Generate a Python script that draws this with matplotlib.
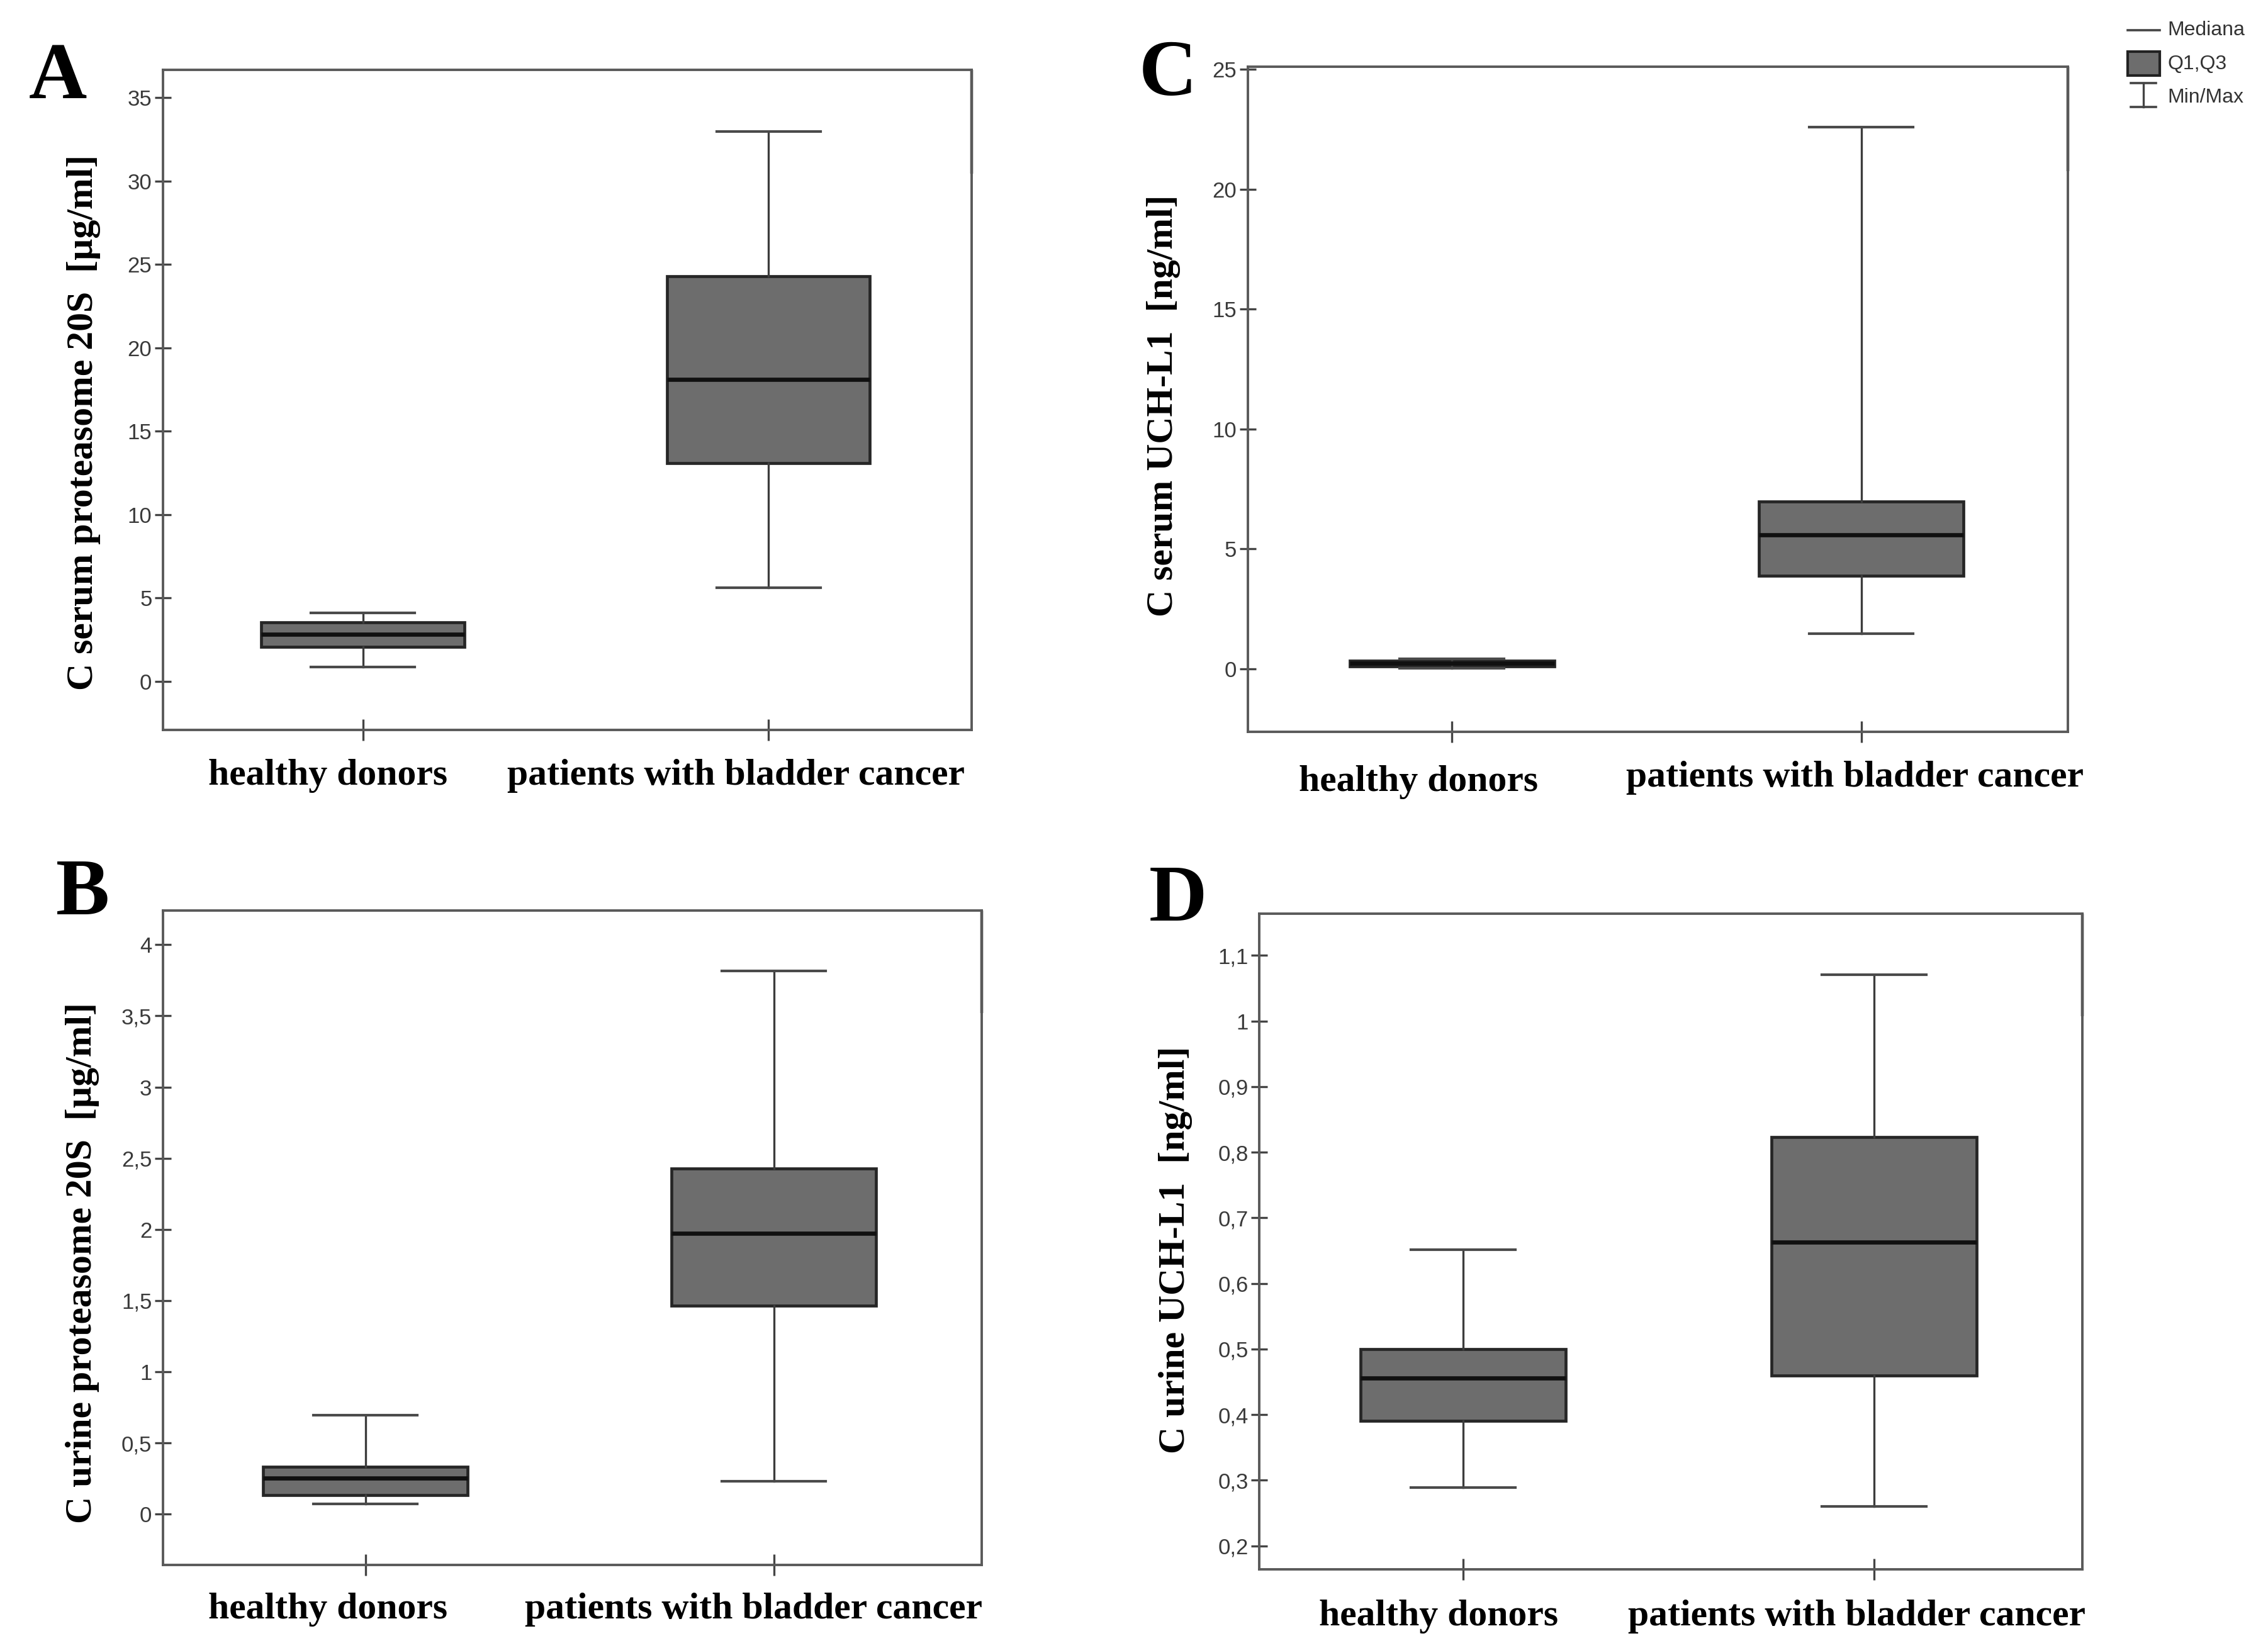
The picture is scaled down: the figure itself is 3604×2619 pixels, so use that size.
import matplotlib
matplotlib.use("Agg")
import matplotlib.pyplot as plt
from matplotlib.lines import Line2D
from matplotlib.patches import Rectangle
from matplotlib.ticker import FuncFormatter, MultipleLocator

# ---- data (min, Q1, median, Q3, max) ----
groups = ["healthy donors", "patients with bladder cancer"]

A_min = [0.85, 5.63]
A_q1 = [2.08, 13.1]
A_med = [2.83, 18.1]
A_q3 = [3.53, 24.3]
A_max = [4.09, 32.96]

C_min = [0.02, 1.47]
C_q1 = [0.10, 3.88]
C_med = [0.22, 5.59]
C_q3 = [0.32, 6.97]
C_max = [0.40, 22.59]

B_min = [0.074, 0.232]
B_q1 = [0.136, 1.464]
B_med = [0.251, 1.972]
B_q3 = [0.332, 2.426]
B_max = [0.693, 3.816]

D_min = [0.289, 0.260]
D_q1 = [0.390, 0.460]
D_med = [0.456, 0.663]
D_q3 = [0.500, 0.823]
D_max = [0.651, 1.071]

ylabels = {
    "A": "C serum proteasome 20S  [\u00b5g/ml]",
    "C": "C serum UCH-L1  [ng/ml]",
    "B": "C urine proteasome 20S  [\u00b5g/ml]",
    "D": "C urine UCH-L1  [ng/ml]",
}
legend_labels = ["Mediana", "Q1,Q3", "Min/Max"]

serif = ["Liberation Serif", "DejaVu Serif"]
tickfont = ["Liberation Sans Narrow", "Liberation Sans", "DejaVu Sans"]

fig = plt.figure(figsize=(36.05, 26.19), dpi=100)

spine_col = "#5a5a5a"


def comma_fmt(v, pos):
    s = "%g" % round(v, 3)
    return s.replace(".", ",")


def panel(rect, letter, mins, q1s, meds, q3s, maxs, ylim, step, xlim,
          lab_dx, lab_dy, letter_xy, ylab_xy):
    ax = fig.add_axes(rect)
    stats = []
    for i in range(len(groups)):
        stats.append(dict(whislo=mins[i], q1=q1s[i], med=meds[i],
                          q3=q3s[i], whishi=maxs[i], fliers=[]))
    ax.bxp(stats, positions=[1, 2], widths=0.5, capwidths=0.255,
           patch_artist=True, showfliers=False,
           boxprops=dict(facecolor="#6d6d6d", edgecolor="#262626", linewidth=3.4),
           medianprops=dict(color="#101010", linewidth=4.8),
           whiskerprops=dict(color="#3c3c3c", linewidth=2.4),
           capprops=dict(color="#4a4a4a", linewidth=3.0))
    ax.set_xlim(*xlim)
    ax.set_ylim(*ylim)
    ax.yaxis.set_major_locator(MultipleLocator(step))
    ax.yaxis.set_major_formatter(FuncFormatter(comma_fmt))
    ax.set_xticks([1, 2])
    ax.set_xticklabels(["", ""])
    for s in ax.spines.values():
        s.set_color(spine_col)
        s.set_linewidth(2.8)
    # darker stretch at top of the right frame, as in the scan
    ax.plot([1, 1], [0.843, 1.0], transform=ax.transAxes, color="#1e1e1e",
            lw=3.2, clip_on=False, solid_capstyle="butt")
    ax.tick_params(axis="y", direction="inout", length=19, width=2.4,
                   color="#444444", labelsize=25, labelcolor="#3a3a3a", pad=3)
    ax.tick_params(axis="x", direction="inout", length=24, width=2.4,
                   color="#444444")
    for t in ax.get_yticklabels():
        t.set_family(tickfont)
    for i, g in enumerate(groups):
        ax.annotate(g, xy=(i + 1, 0), xycoords=("data", "axes fraction"),
                    xytext=(lab_dx[i], -lab_dy[i]), textcoords="offset points",
                    ha="center", va="center", fontsize=43, fontweight="bold",
                    family=serif)
    ax.text(ylab_xy[0], ylab_xy[1], ylabels[letter], rotation=90,
            transform=ax.transAxes, ha="center", va="center", fontsize=43,
            fontweight="bold", family=serif)
    fig.text(letter_xy[0], letter_xy[1], letter, ha="center", va="center",
             fontsize=92, fontweight="bold", family=serif)
    return ax


panel([0.0718, 0.5569, 0.3564, 0.4007], "A", A_min, A_q1, A_med, A_q3, A_max,
      (-2.93, 36.67), 5, (0.507, 2.50), (-40, -37), (52, 52),
      (0.0256, 0.952), (-0.098, 0.466))
panel([0.5500, 0.5560, 0.3615, 0.4034], "C", C_min, C_q1, C_med, C_q3, C_max,
      (-2.63, 25.1), 5, (0.501, 2.505), (-38, -7), (58, 53),
      (0.5147, 0.954), (-0.103, 0.49))
panel([0.0718, 0.0503, 0.3609, 0.3972], "B", B_min, B_q1, B_med, B_q3, B_max,
      (-0.358, 4.24), 0.5, (0.504, 2.509), (-43, -23), (51, 51),
      (0.0365, 0.457), (-0.098, 0.462))
panel([0.5551, 0.0477, 0.3628, 0.3980], "D", D_min, D_q1, D_med, D_q3, D_max,
      (0.164, 1.164), 0.1, (0.504, 2.507), (-28, -20), (54, 54),
      (0.5192, 0.453), (-0.102, 0.487))

# ---- legend in the top right corner ----
lx0, lx1 = 0.9378, 0.9519
fig.add_artist(Line2D([lx0, lx1], [0.9815, 0.9815], transform=fig.transFigure,
                      color="#444444", lw=2.6))
fig.add_artist(Rectangle((lx0, 0.954), lx1 - lx0, 0.0145,
                         transform=fig.transFigure, facecolor="#6d6d6d",
                         edgecolor="#222222", lw=3.0))
cx = (lx0 + lx1) / 2
fig.add_artist(Line2D([cx, cx], [0.935, 0.9495], transform=fig.transFigure,
                      color="#444444", lw=2.4))
for yy in (0.935, 0.9495):
    fig.add_artist(Line2D([lx0 + 0.0015, lx1 - 0.0015], [yy, yy],
                          transform=fig.transFigure, color="#444444", lw=2.6))
for lab, yy in zip(legend_labels, [0.9815, 0.961, 0.941]):
    fig.text(0.9555, yy, lab, ha="left", va="center", fontsize=23,
             color="#333333", family=tickfont)

fig.savefig("out.png", dpi=100, facecolor="white")
